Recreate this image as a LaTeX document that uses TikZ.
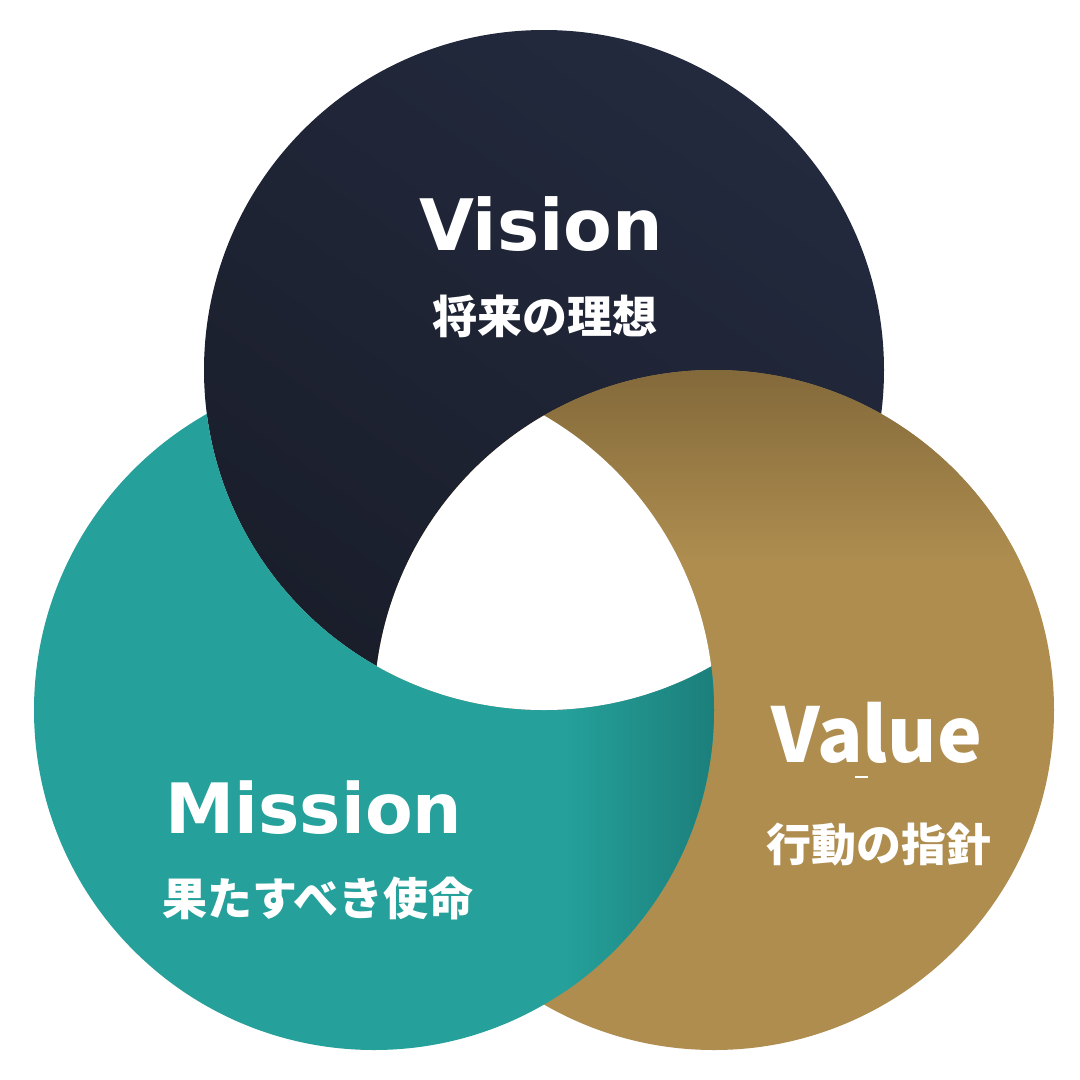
\documentclass[tikz,border=0pt]{standalone}
\usepackage{fontspec}
\newfontfamily\latinb{DejaVu Sans}
\newfontfamily\cjk{Noto Sans CJK JP}
\definecolor{navy}{HTML}{232A3E}
\definecolor{navydark}{HTML}{1A1E2B}
\definecolor{teal}{HTML}{25A09A}
\definecolor{tealdark}{HTML}{18706D}
\definecolor{gold}{HTML}{AE8D4F}
\definecolor{golddark}{HTML}{7A6236}
\tikzset{
  engtext/.style={text=white, anchor=base, inner sep=0pt},
  jptext/.style={text=white, anchor=base, inner sep=0pt, font=\cjk\bfseries\fontsize{45}{45}\selectfont},
}
\begin{document}
\begin{tikzpicture}[x=1pt,y=-1pt]
\useasboundingbox (0,0) rectangle (1080,1080);
\fill[white] (0,0) rectangle (1080,1080);
\coordinate (cV) at (544,370);
\coordinate (cM) at (374,710);
\coordinate (cA) at (714,710);
% Vision circle (navy)
\shade[top color=navy, bottom color=navydark, shading angle=-35] (cV) circle[radius=340];
% Value circle (gold) with darker top, over Vision
\fill[gold] (cA) circle[radius=340];
\begin{scope}
  \clip (cA) circle[radius=340];
  \shade[top color=golddark, bottom color=gold] (370,330) rectangle (1060,560);
\end{scope}
% Mission circle (teal), over Value but under Vision
\begin{scope}[even odd rule]
  \clip (-10,-10) rectangle (1090,1090) (cV) circle[radius=340];
  \fill[teal] (cM) circle[radius=340];
  \clip (cM) circle[radius=340];
  \shade[left color=teal, right color=tealdark] (565,360) rectangle (780,1060);
\end{scope}
% triple intersection white
\begin{scope}
  \clip (cV) circle[radius=340];
  \clip (cM) circle[radius=340];
  \fill[white] (cA) circle[radius=340];
\end{scope}
% texts
\node[engtext, font=\latinb\bfseries\fontsize{71}{71}\selectfont] (vision) at (541,250) {Vision};
\node[jptext] (visionjp) at (545,333) {将来の理想};
\node[engtext, font=\latinb\bfseries\fontsize{69.5}{69.5}\selectfont] (mission) at (314,833) {Mission};
\node[jptext] (missionjp) at (318,915) {果たすべき使命};
\node[engtext, font=\cjk\bfseries\fontsize{75.5}{75.5}\selectfont] (value) at (877,762) {Value};
\node[jptext] (valuejp) at (879,861) {行動の指針};
\draw[white, line width=1.2] (855,777) -- (868,777);
\end{tikzpicture}
\end{document}
